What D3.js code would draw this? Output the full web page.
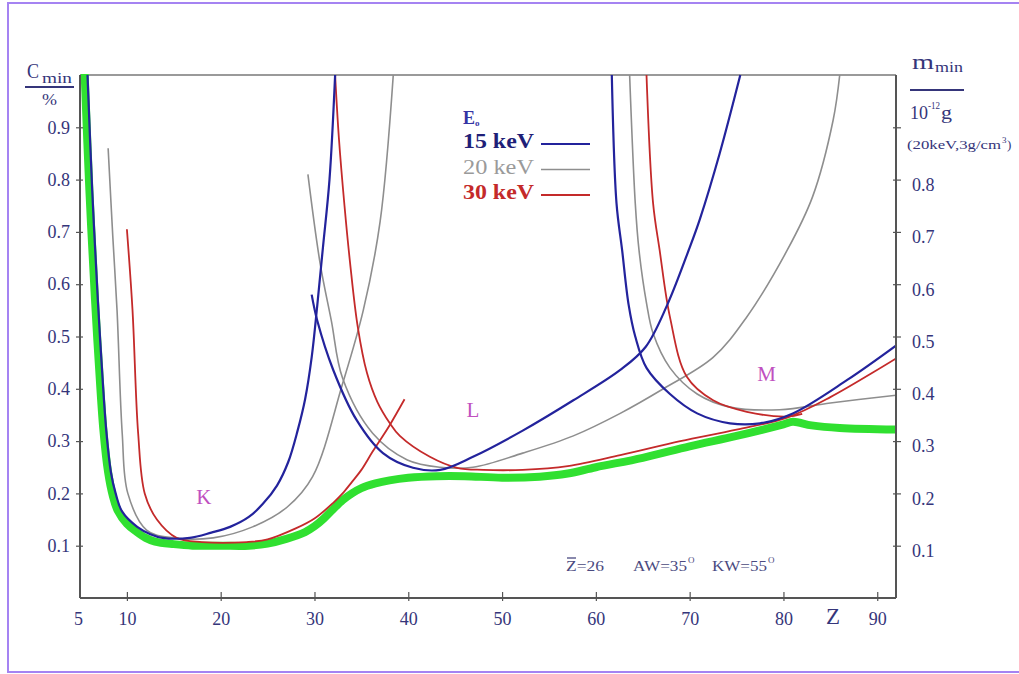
<!DOCTYPE html>
<html>
<head>
<meta charset="utf-8">
<script src="https://cdn.jsdelivr.net/npm/d3@7"></script>
<style>
  body { margin: 0; background: #fff; }
  svg text { font-family: "Liberation Serif", "DejaVu Serif", serif; }
</style>
</head>
<body>
<div id="chart"></div>
<script>
// axis ticks
var zTicks = [5, 10, 20, 30, 40, 50, 60, 70, 80, 90];
var cTicks = [0.1, 0.2, 0.3, 0.4, 0.5, 0.6, 0.7, 0.8, 0.9];
var mTickLabels = ['0.1', '0.2', '0.3', '0.4', '0.5', '0.6', '0.7', '0.8', ''];

// envelope (thick green)
var greenZ = [5.5, 6.0, 6.6, 7.0, 7.5, 8.0, 8.5, 9, 10, 11, 12, 13, 15, 17, 20, 23, 25, 27, 29, 30, 31, 32, 33, 34, 35, 36.5, 38, 40, 43, 46, 50, 54, 57, 60, 65, 70, 75, 80, 81, 83, 86, 92];
var greenV = [1.0, 0.78, 0.57, 0.45, 0.32, 0.24, 0.195, 0.168, 0.142, 0.127, 0.115, 0.108, 0.103, 0.1, 0.1, 0.1, 0.104, 0.113, 0.126, 0.137, 0.152, 0.17, 0.187, 0.2, 0.21, 0.219, 0.225, 0.23, 0.233, 0.233, 0.23, 0.232, 0.238, 0.25, 0.268, 0.29, 0.31, 0.332, 0.337, 0.33, 0.325, 0.322];

// 15 keV
var blueKZ = [5.8, 6.3, 6.9, 7.3, 7.8, 8.3, 8.8, 9.5, 11.1, 12.5, 13.8, 16.7, 19, 21, 23, 24.5, 26, 27.2, 28.2, 29, 29.7, 30.3, 30.9, 31.6, 32.2];
var blueKV = [1.0, 0.78, 0.57, 0.45, 0.32, 0.24, 0.2, 0.165, 0.136, 0.122, 0.115, 0.115, 0.125, 0.136, 0.155, 0.18, 0.215, 0.26, 0.32, 0.38, 0.46, 0.56, 0.67, 0.8, 1.0];
var blueLZ = [29.7, 30.3, 32, 34.5, 37.3, 40.5, 43.4, 46.9, 52.2, 57.6, 62.6, 65.3, 67.6, 70, 71.1, 73.2, 75.4];
var blueLV = [0.58, 0.53, 0.436, 0.34, 0.277, 0.249, 0.245, 0.27, 0.32, 0.378, 0.436, 0.48, 0.56, 0.67, 0.725, 0.85, 1.0];
var blueMZ = [61.7, 62.2, 62.8, 63.5, 64.2, 65.4, 67.9, 70.8, 74.3, 77.5, 81, 86.8, 92.1];
var blueMV = [1.0, 0.755, 0.665, 0.56, 0.5, 0.44, 0.39, 0.353, 0.334, 0.334, 0.353, 0.417, 0.484];

// 20 keV
var greyKZ = [8.0, 8.5, 8.95, 9.5, 10.1, 12.1, 14.9, 19.2, 23.4, 27.1, 29.8, 33, 35.2, 37, 38.4];
var greyKV = [0.86, 0.69, 0.55, 0.315, 0.2, 0.13, 0.115, 0.115, 0.136, 0.174, 0.232, 0.41, 0.55, 0.72, 1.0];
var greyLZ = [29.3, 30.6, 31.8, 33, 36.2, 39.9, 43.4, 46.9, 52.2, 57.6, 62.6, 67.2, 72.5, 76, 80.4, 83.1, 85.3, 86];
var greyLV = [0.81, 0.64, 0.53, 0.42, 0.315, 0.264, 0.25, 0.25, 0.277, 0.31, 0.353, 0.4, 0.46, 0.535, 0.665, 0.767, 0.914, 1.0];
var greyMZ = [63.6, 64.2, 64.6, 65.4, 66.1, 67.9, 70.8, 74.3, 79.6, 85, 92.1];
var greyMV = [1.0, 0.755, 0.665, 0.564, 0.506, 0.44, 0.39, 0.365, 0.36, 0.373, 0.388];

// 30 keV
var redKZ = [10, 10.6, 11.2, 11.9, 13.2, 15.3, 18, 22.8, 25, 28, 30, 32, 33, 34, 35, 36.2, 38, 39.6];
var redKV = [0.705, 0.55, 0.315, 0.2, 0.15, 0.115, 0.107, 0.107, 0.112, 0.133, 0.152, 0.182, 0.2, 0.222, 0.245, 0.28, 0.33, 0.38];
var redLZ = [32.2, 32.6, 33.2, 33.8, 34.6, 35.6, 36.7, 38, 39.1, 42.3, 45.2, 48, 52.2, 57, 62.6, 69, 75, 80.4, 85, 92.1];
var redLV = [1.0, 0.88, 0.75, 0.64, 0.52, 0.43, 0.375, 0.335, 0.31, 0.27, 0.249, 0.245, 0.245, 0.252, 0.273, 0.3, 0.322, 0.345, 0.384, 0.459];
var redMZ = [65.4, 66.1, 66.8, 67.9, 69.7, 72.5, 76.1, 80.4, 82];
var redMV = [1.0, 0.755, 0.665, 0.537, 0.423, 0.378, 0.356, 0.347, 0.352];

var legendNames = ['15 keV', '20 keV', '30 keV'];
var shellNames = ['K', 'L', 'M'];
var shellZ = [18.2, 46.9, 78.2];
var shellV = [0.18, 0.346, 0.415];

var width = 1019;
var height = 674;
var plotLeft = 80, plotTop = 75, plotRight = 896, plotBottom = 598;

var navy = '#35357a';
var blue = '#23239c';
var grey = '#8e8e8e';
var red = '#c42a2a';
var green = '#30e030';

var svg = d3.select('#chart').append('svg')
  .attr('width', width)
  .attr('height', height);

// purple frame
svg.append('rect')
  .attr('x', 8).attr('y', 3)
  .attr('width', 1020).attr('height', 669)
  .attr('fill', 'none')
  .attr('stroke', '#a583f2')
  .attr('stroke-width', 2);

var x = d3.scaleLinear().domain([5, 92]).range([plotLeft, plotRight]);
var y = d3.scaleLinear().domain([0, 1]).range([plotBottom, plotTop]);

svg.append('clipPath').attr('id', 'plot')
  .append('rect')
  .attr('x', plotLeft).attr('y', plotTop - 1)
  .attr('width', plotRight - plotLeft).attr('height', plotBottom - plotTop + 1);

// top frame line
svg.append('line')
  .attr('x1', plotLeft).attr('x2', plotRight)
  .attr('y1', plotTop).attr('y2', plotTop)
  .attr('stroke', '#9a9a9a').attr('stroke-width', 2);

var line = d3.line()
  .x(function(d) { return x(d[0]); })
  .y(function(d) { return y(d[1]); })
  .curve(d3.curveCatmullRom.alpha(0.5));

function zip(zs, vs) {
  return zs.map(function(z, i) { return [z, vs[i]]; });
}

var curves = svg.append('g').attr('clip-path', 'url(#plot)');

curves.append('path')
  .attr('d', line(zip(greenZ, greenV)))
  .attr('fill', 'none')
  .attr('stroke', green)
  .attr('stroke-width', 8)
  .attr('stroke-linejoin', 'round')
  .attr('stroke-linecap', 'round');

var series = [
  [greyKZ, greyKV, grey, 1.6],
  [greyLZ, greyLV, grey, 1.6],
  [greyMZ, greyMV, grey, 1.6],
  [redKZ, redKV, red, 1.8],
  [redLZ, redLV, red, 1.8],
  [redMZ, redMV, red, 1.8],
  [blueKZ, blueKV, blue, 2.2],
  [blueLZ, blueLV, blue, 2.2],
  [blueMZ, blueMV, blue, 2.2]
];

series.forEach(function(s) {
  curves.append('path')
    .attr('d', line(zip(s[0], s[1])))
    .attr('fill', 'none')
    .attr('stroke', s[2])
    .attr('stroke-width', s[3]);
});

// axes
var xAxis = d3.axisBottom(x).tickValues(zTicks).tickSize(0).tickPadding(14);
var gx = svg.append('g')
  .attr('transform', 'translate(0,' + plotBottom + ')')
  .call(xAxis);

var yAxisL = d3.axisLeft(y).tickValues(cTicks).tickSize(0).tickPadding(10)
  .tickFormat(d3.format('.1f'));
var gyl = svg.append('g')
  .attr('transform', 'translate(' + plotLeft + ',0)')
  .call(yAxisL);

var yAxisR = d3.axisRight(y).tickValues(cTicks).tickSize(0).tickPadding(16)
  .tickFormat(function(d, i) { return mTickLabels[i]; });
var gyr = svg.append('g')
  .attr('transform', 'translate(' + plotRight + ',0)')
  .call(yAxisR);

[gx, gyl, gyr].forEach(function(g) {
  g.select('.domain').attr('stroke', '#555').attr('stroke-width', 2);
  g.selectAll('text')
    .style('font-family', '"Liberation Serif", serif')
    .style('font-size', '18px')
    .attr('fill', navy);
});

gx.select('.domain').attr('d', 'M' + plotLeft + ',0H' + plotRight);
gyl.select('.domain').attr('d', 'M0,' + plotTop + 'V' + plotBottom);
gyr.select('.domain').attr('d', 'M0,' + plotTop + 'V' + plotBottom);

gx.selectAll('.tick').filter(function(d) { return d !== 5; })
  .append('line').attr('y1', -6).attr('y2', 3).attr('stroke', '#555').attr('stroke-width', 1.2);
gx.selectAll('.tick').filter(function(d) { return d === 5; })
  .select('text').attr('dx', '-2');
gyl.selectAll('.tick').append('line')
  .attr('x1', -4).attr('x2', 3).attr('stroke', '#555').attr('stroke-width', 1.2);
gyr.selectAll('.tick').append('line')
  .attr('x1', -3).attr('x2', 5).attr('stroke', '#555').attr('stroke-width', 1.2);
gyr.selectAll('.tick text').attr('dy', '0.6em');

// Z axis name
svg.append('text')
  .attr('x', 833).attr('y', 624)
  .attr('text-anchor', 'middle')
  .style('font-size', '23px')
  .attr('fill', navy)
  .text('Z');

// small helper for stretched text pieces
function label(tx, ty, str, size, len, color) {
  var t = svg.append('text')
    .attr('x', tx).attr('y', ty)
    .style('font-size', size + 'px')
    .attr('fill', color || navy)
    .text(str);
  if (len) {
    t.attr('textLength', len).attr('lengthAdjust', 'spacingAndGlyphs');
  }
  return t;
}

// left axis title
label(27, 78, 'C', 21, 12);
label(42, 83, 'min', 15, 30);
svg.append('line')
  .attr('x1', 25).attr('x2', 74).attr('y1', 87).attr('y2', 87)
  .attr('stroke', navy).attr('stroke-width', 2);
label(42, 105, '%', 16, 15);

// right axis title
label(912, 69, 'm', 21, 22);
label(935, 72, 'min', 14, 28);
svg.append('line')
  .attr('x1', 910).attr('x2', 964).attr('y1', 90).attr('y2', 90)
  .attr('stroke', navy).attr('stroke-width', 2);
label(910, 119, '10', 19, 18);
label(928, 109, '-12', 11, 12);
label(941, 119, 'g', 19, 11);
label(907, 149, '(20keV,3g/cm', 13, 94);
label(1002, 143, '3', 9);
label(1007, 149, ')', 13);

// legend
label(463, 124, 'E', 18, 12, '#3434a4').style('font-weight', 'bold');
label(475, 126, 'o', 9, 0, '#3434a4').style('font-weight', 'bold');

var legendColors = [blue, grey, red];
var legendWeight = ['bold', 'normal', 'bold'];
var legendText = ['#1f1f78', '#9a9a9a', '#c42a2a'];
var lg = svg.selectAll('.legend')
  .data(legendNames)
  .enter()
  .append('g')
  .attr('class', 'legend')
  .attr('transform', function(d, i) { return 'translate(463,' + (148 + i * 25.5) + ')'; });

lg.append('text')
  .attr('x', 0).attr('y', 0)
  .attr('textLength', 71)
  .attr('lengthAdjust', 'spacingAndGlyphs')
  .style('font-size', '20px')
  .style('font-weight', function(d, i) { return legendWeight[i]; })
  .attr('fill', function(d, i) { return legendText[i]; })
  .text(function(d) { return d; });

lg.append('line')
  .attr('x1', 78).attr('x2', 127)
  .attr('y1', -4).attr('y2', -4)
  .attr('stroke', function(d, i) { return legendColors[i]; })
  .attr('stroke-width', function(d, i) { return i === 1 ? 1.5 : 2; });

// shell labels
svg.selectAll('.shell')
  .data(shellNames)
  .enter()
  .append('text')
  .attr('class', 'shell')
  .attr('x', function(d, i) { return x(shellZ[i]); })
  .attr('y', function(d, i) { return y(shellV[i]); })
  .attr('text-anchor', 'middle')
  .style('font-size', '21px')
  .attr('fill', '#c050c0')
  .text(function(d) { return d; });

// measurement conditions
var noteColor = '#4a4a80';
label(566, 571, 'Z=26', 14, 38, noteColor);
svg.append('line')
  .attr('x1', 567).attr('x2', 576).attr('y1', 558).attr('y2', 558)
  .attr('stroke', noteColor).attr('stroke-width', 1.3);
label(633, 571, 'AW=35', 14, 54, noteColor);
label(688, 563, 'O', 9, 0, noteColor);
label(712, 571, 'KW=55', 14, 55, noteColor);
label(768, 563, 'O', 9, 0, noteColor);
</script>
</body>
</html>
